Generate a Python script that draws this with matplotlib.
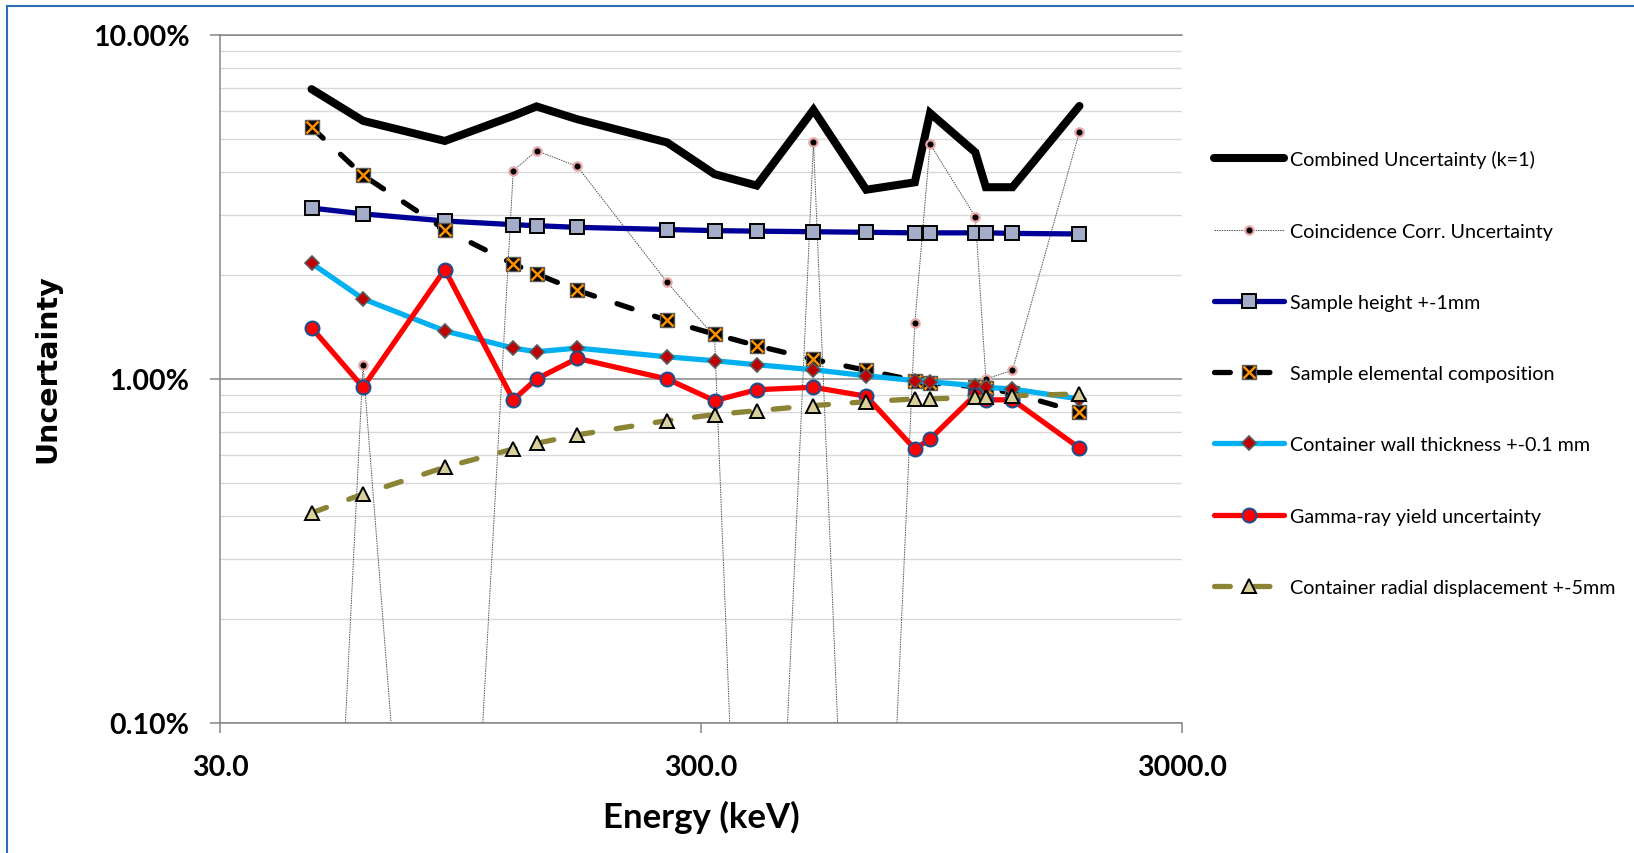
import matplotlib.pyplot as plt
from matplotlib.ticker import FixedLocator, FuncFormatter, NullLocator, LogLocator
from matplotlib.legend_handler import HandlerTuple
from matplotlib.patches import Rectangle

# Gamma-ray energies (keV)
energy = [46.5, 59.5, 88.0, 122.1, 136.5, 165.9, 255.1, 320.1, 391.7,
          514.0, 661.7, 834.8, 898.0, 1115.5, 1173.2, 1332.5, 1836.1]

# Relative uncertainties (%)
combined = [6.96, 5.63, 4.92, 5.82, 6.20, 5.69, 4.87, 3.94, 3.65,
            6.06, 3.55, 3.73, 5.93, 4.56, 3.61, 3.61, 6.22]
coincidence = [0.001, 1.10, 0.001, 4.03, 4.61, 4.15, 1.91, 1.33, 0.001,
               4.87, 0.001, 1.45, 4.82, 2.96, 1.00, 1.06, 5.23]
sample_height = [3.14, 3.02, 2.88, 2.81, 2.79, 2.76, 2.72, 2.70, 2.69,
                 2.68, 2.67, 2.66, 2.66, 2.66, 2.66, 2.65, 2.64]
composition = [5.39, 3.91, 2.72, 2.16, 2.02, 1.81, 1.48, 1.35, 1.25,
               1.14, 1.06, 0.99, 0.975, 0.95, 0.94, 0.91, 0.80]
wall_thickness = [2.17, 1.71, 1.38, 1.23, 1.20, 1.23, 1.16, 1.13, 1.10,
                  1.064, 1.022, 0.989, 0.982, 0.956, 0.946, 0.935, 0.875]
gamma_yield = [1.41, 0.946, 2.08, 0.869, 1.0, 1.148, 1.0, 0.865, 0.931,
               0.946, 0.891, 0.626, 0.669, 0.90, 0.87, 0.87, 0.63]
radial_disp = [0.408, 0.463, 0.554, 0.626, 0.650, 0.688, 0.757, 0.788, 0.809,
               0.837, 0.859, 0.875, 0.875, 0.884, 0.884, 0.894, 0.905]

labels = ["Combined Uncertainty (k=1)", "Coincidence Corr. Uncertainty",
          "Sample height +-1mm", "Sample elemental composition",
          "Container wall thickness +-0.1 mm", "Gamma-ray yield uncertainty",
          "Container radial displacement +-5mm"]

x_ticks = [30, 300, 3000]
y_ticks = [0.1, 1, 10]

plt.rcParams['font.family'] = ['Lato', 'DejaVu Sans']

W, H = 1634, 854
fig = plt.figure(figsize=(W / 100, H / 100), dpi=100)
ax = fig.add_axes([220 / W, 1 - 724 / H, 962 / W, 688 / H])
ax.set_xscale('log')
ax.set_yscale('log')

grid_major = '#868686'
grid_minor = '#d9d9d9'

# series, drawn in the Excel order
h_comb, = ax.plot(energy, combined, color='black', lw=5.8,
                  solid_joinstyle='miter', solid_capstyle='round')
h_coin, = ax.plot(energy, coincidence, color='#505050', lw=0.7, ls=(0, (1.5, 1)),
                  marker='o', ms=6, mfc='black', mec='#eaa8a8', mew=1.6)
h_height, = ax.plot(energy, sample_height, color='#000099', lw=3.8,
                    solid_capstyle='round',
                    marker='s', ms=9.5, mfc='#a3acc8', mec='black', mew=1.4)
h_comp, = ax.plot(energy, composition, color='black', lw=3.8, ls=(0, (3, 4.5)),
                  dash_capstyle='round',
                  marker='s', ms=9.5, mfc='black', mec='#595959', mew=1.0)
h_comp_x, = ax.plot(energy, composition, ls='none', marker='x', ms=8,
                    mec='#ff9000', mew=1.8)
h_wall, = ax.plot(energy, wall_thickness, color='#00b0f0', lw=3.8,
                  solid_capstyle='round',
                  marker='D', ms=7, mfc='#c00000', mec='#595959', mew=1.2)
h_gamma, = ax.plot(energy, gamma_yield, color='#ff0000', lw=3.8,
                   solid_capstyle='round',
                   marker='o', ms=10, mfc='#ff0000', mec='#1f4e8c', mew=1.5)
h_radial, = ax.plot(energy, radial_disp, color='#8b8436', lw=3.8, ls=(0, (3, 4.5)),
                    dash_capstyle='round',
                    marker='^', ms=10, mfc='#d8d09a', mec='black', mew=1.4)

ax.set_xlim(30, 3000)
ax.set_ylim(0.1, 10)

# axes and gridlines
ax.yaxis.set_major_locator(FixedLocator(y_ticks))
ax.yaxis.set_minor_locator(LogLocator(base=10, subs=range(2, 10)))
ax.xaxis.set_major_locator(FixedLocator(x_ticks))
ax.xaxis.set_minor_locator(NullLocator())
ax.grid(True, which='major', axis='y', color=grid_major, lw=1.1)
ax.grid(True, which='minor', axis='y', color=grid_minor, lw=1.0)
ax.set_axisbelow(True)

ax.yaxis.set_major_formatter(FuncFormatter(lambda v, p: f"{v:.2f}%"))
ax.xaxis.set_major_formatter(FuncFormatter(lambda v, p: f"{v:.1f}"))
ax.tick_params(which='major', length=7, width=1.1, color=grid_major,
               labelsize=20.5, pad=15)
ax.tick_params(which='minor', length=0)
for lab in ax.get_xticklabels() + ax.get_yticklabels():
    lab.set_fontweight('bold')

ax.spines['right'].set_visible(False)
for s in ['top', 'left', 'bottom']:
    ax.spines[s].set_color(grid_major)
    ax.spines[s].set_linewidth(1.1)

ax.set_xlabel("Energy (keV)", fontsize=25, fontweight='bold')
ax.xaxis.set_label_coords(0.5, -0.112)
ax.set_ylabel("Uncertainty", fontsize=20.5, fontweight='bold', family=['DejaVu Sans'])
ax.yaxis.set_label_coords(-0.165, 0.516)

# legend on the right
handles = [h_comb, h_coin, h_height, (h_comp, h_comp_x), h_wall, h_gamma, h_radial]
fig.legend(handles, labels, loc='center left', bbox_to_anchor=(1214 / W, 1 - 374 / H),
           frameon=False, fontsize=14.2, handlelength=3.55, handletextpad=0.3,
           labelspacing=2.75, borderpad=0, borderaxespad=0, numpoints=1,
           handler_map={tuple: HandlerTuple(ndivide=1, pad=0)})

# chart area border
fig.patches.append(Rectangle((6.5 / W, -0.5), 2, 1.5 - 6.5 / H, transform=fig.transFigure,
                             fill=False, edgecolor='#2f6db5', lw=1.5))

fig.savefig('out.png', dpi=100)
